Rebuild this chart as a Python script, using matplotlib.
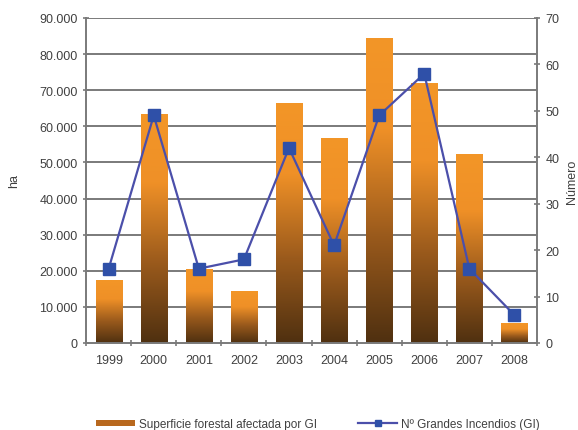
import numpy as np
import matplotlib.pyplot as plt
from matplotlib.patches import Rectangle
from matplotlib.colors import LinearSegmentedColormap
from matplotlib.ticker import FuncFormatter

plt.rcParams['font.family'] = ['Liberation Sans', 'DejaVu Sans']

years = ['1999', '2000', '2001', '2002', '2003', '2004', '2005', '2006', '2007', '2008']
superficie = [17400, 63400, 20400, 14400, 66500, 56800, 84500, 72000, 52300, 5500]  # ha
num_gi = [16, 49, 16, 18, 42, 21, 49, 58, 16, 6]

txt = '#404040'
grid_c = '#7a7a7a'

fig = plt.figure(figsize=(5.78, 4.31), dpi=100)
ax = fig.add_axes([0.149, 0.202, 0.78, 0.754])
ax2 = ax.twinx()

x = np.arange(len(years))
w = 0.58
cmap = LinearSegmentedColormap.from_list('gi', [(0, '#f39627'), (0.3, '#ef9027'), (0.65, '#9a5a1c'), (1, '#4f3010')])
grad = np.linspace(0, 1, 256).reshape(-1, 1)

ax.set_xlim(-0.5, len(years) - 0.5)
ax.set_ylim(0, 90000)
ax.set_yticks(np.arange(0, 90001, 10000))
ax.yaxis.set_major_formatter(FuncFormatter(lambda v, p: '0' if v == 0 else f'{int(v):,}'.replace(',', '.')))
for yv in np.arange(10000, 90001, 10000):
    ax.axhline(yv, color=grid_c, lw=1.4, zorder=1)

for xi, h in zip(x, superficie):
    rect = Rectangle((xi - w / 2, 0), w, h, facecolor='none', edgecolor='none')
    ax.add_patch(rect)
    im = ax.imshow(grad, cmap=cmap, extent=(xi - w / 2, xi + w / 2, 0, h), aspect='auto', origin='upper', zorder=2)
    im.set_clip_path(rect)
ax.set_xlim(-0.5, len(years) - 0.5)
ax.set_ylim(0, 90000)

ax2.plot(x, num_gi, color='#4b4faa', lw=1.6, marker='s', ms=8, mfc='#2f50a8', mec='#2f50a8', zorder=5)
ax2.set_ylim(0, 70)
ax2.set_yticks(np.arange(0, 71, 10))

ax.set_xticks(x)
ax.set_xticklabels(years)
ax.set_xticks(np.arange(-0.5, len(years), 1), minor=True)
ax.tick_params(axis='x', which='major', length=0, pad=8, labelsize=9, colors=txt)
ax.tick_params(axis='x', which='minor', length=4, direction='inout', color=grid_c, width=1.2)
ax.tick_params(axis='y', length=5, direction='inout', labelsize=9, colors=txt, width=1.2)
ax.tick_params(axis='y', color=grid_c)
ax2.tick_params(axis='y', length=5, direction='inout', labelsize=9, colors=txt, color=grid_c, width=1.2)

for a in (ax, ax2):
    for s in a.spines.values():
        s.set_visible(False)
ax.spines['left'].set_visible(True)
ax.spines['bottom'].set_visible(True)
ax2.spines['right'].set_visible(True)
ax.spines['left'].set_color(grid_c)
ax.spines['bottom'].set_color(grid_c)
ax2.spines['right'].set_color(grid_c)
ax.spines['left'].set_linewidth(1.4)
ax.spines['bottom'].set_linewidth(1.4)
ax2.spines['right'].set_linewidth(1.4)

ax.set_ylabel('ha', color=txt, fontsize=9, labelpad=14)
ax2.set_ylabel('Número', color=txt, fontsize=9, labelpad=5)

# legend
bar_proxy = Rectangle((0, 0), 1, 1, facecolor='#b8681e')
line_proxy, = ax2.plot([], [], color='#4b4faa', lw=1.6, marker='s', ms=5, mfc='#2f50a8', mec='#2f50a8')
fig.legend([bar_proxy, line_proxy], ['Superficie forestal afectada por GI', 'Nº Grandes Incendios (GI)'],
           loc='lower center', bbox_to_anchor=(0.55, -0.025), ncol=2, frameon=False, fontsize=8.5,
           handlelength=3.3, handleheight=0.5, handletextpad=0.3, columnspacing=3.5, labelcolor=txt)

fig.savefig('out.png', dpi=100)
